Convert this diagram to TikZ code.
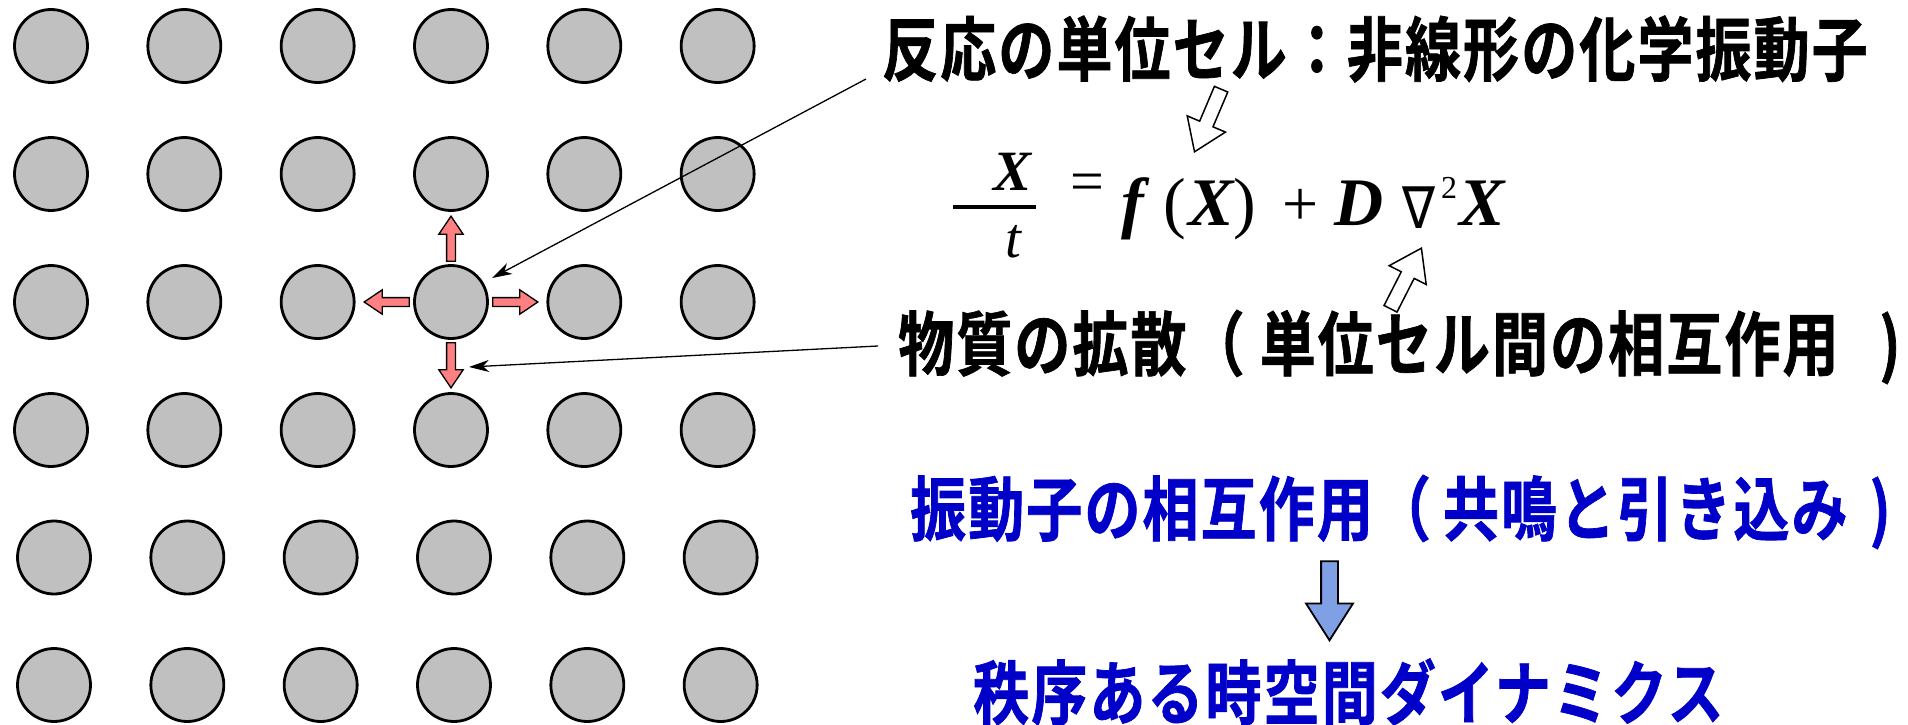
\documentclass[tikz,border=0pt]{standalone}
\usepackage{fontspec}
\setmainfont{Liberation Serif}
\newfontfamily\jp[FakeStretch=0.8,LetterSpace=3,FakeBold=1]{Noto Sans CJK JP Bold}
\newfontfamily\symfont{DejaVu Sans}
\usetikzlibrary{shapes.arrows,arrows.meta}
\definecolor{cellgray}{RGB}{192,192,192}
\definecolor{arrowred}{RGB}{255,128,128}
\definecolor{arrowblue}{RGB}{128,160,230}
\definecolor{jpblue}{RGB}{0,0,200}
\tikzset{
  cell/.style={circle, draw=black, line width=2.8pt, fill=cellgray, minimum size=73pt, inner sep=0pt},
  redarr/.style={single arrow, draw=black, line width=1.3pt, fill=arrowred, anchor=tip,
    inner xsep=0pt, inner ysep=3.75pt, text height=0pt, text depth=0pt, minimum width=0pt,
    single arrow head extend=7.75pt, single arrow tip angle=68, minimum height=45pt},
  bluearr/.style={single arrow, draw=black, line width=1.8pt, fill=arrowblue, anchor=tip,
    inner xsep=0pt, inner ysep=7.5pt, text height=0pt, text depth=0pt, minimum width=0pt,
    single arrow head extend=15pt, single arrow tip angle=65, minimum height=79pt},
  hollowarr/.style={single arrow, draw=black, line width=1.5pt, fill=white, anchor=tip,
    inner xsep=0pt, inner ysep=6.5pt, text height=0pt, text depth=0pt, minimum width=0pt,
    single arrow head extend=13.5pt, single arrow tip angle=69, minimum height=68pt},
  thinarr/.style={line width=1.3pt, -{Stealth[length=20pt,width=12pt,inset=6pt]}},
  jptext/.style={font=\jp\fontsize{70}{74}\selectfont, inner sep=0pt, anchor=west},
  eqbi/.style={font=\fontsize{68}{70}\selectfont\bfseries\itshape, inner sep=0pt, anchor=base west},
  eqrm/.style={font=\fontsize{68}{70}\selectfont, inner sep=0pt, anchor=base west},
}
\begin{document}
\begin{tikzpicture}[x=1pt,y=-1pt]
\useasboundingbox[fill=white] (0,0) rectangle (1908,725);
% grid of cells
\foreach \r/\y/\dx in {1/46/0,2/174/0,3/302/0,4/430/0,5/557.5/3,6/685/3}{
  \foreach \c in {1,...,6}{
    \node[cell] (c\r\c) at ({51+133.33*(\c-1)+\dx},\y) {};
  }
}
% red diffusion arrows
\node[redarr, rotate=90] (ru) at (451,215) {};
\node[redarr, rotate=180] (rl) at (363,302) {};
\node[redarr] (rr) at (539,302) {};
\node[redarr, rotate=-90] (rd) at (451,389) {};
% texts
\node[jptext] (title) at (882,49) {反応の単位セル：非線形の化学振動子};
\node[jptext] (diff) at (898,347) {物質の拡散（\kern15pt 単位セル間の相互作用 \kern26pt)};
\node[jptext, text=jpblue] (inter) at (910,512) {振動子の相互作用（\kern12pt 共鳴と引き込み\kern22pt)};
\node[jptext, text=jpblue] (order) at (973,692) {秩序ある時空間ダイナミクス};
% thin pointer arrows
\coordinate (p1) at (866,79);
\coordinate (q1) at (492,278);
\coordinate (p2) at (878,346);
\coordinate (q2) at (469,367);
\draw[thinarr] (p1) -- (q1);
\draw[thinarr] (p2) -- (q2);
% equation
\node[font=\fontsize{57}{60}\selectfont\bfseries\itshape, inner sep=0pt, anchor=base west] (num) at (993,190) {X};
\node[font=\fontsize{57}{60}\selectfont\itshape, inner sep=0pt, anchor=base west] (den) at (1005,257) {t};
\coordinate (barL) at (953,207);
\coordinate (barR) at (1036,207);
\draw[line width=4pt] (barL) -- (barR);
\node[font=\fontsize{60}{62}\selectfont, inner sep=0pt] (eq) at (1087,188) {=};
\node[eqbi] (ff) at (1121,225) {f};
\node[eqrm] (lp) at (1163,225) {(};
\node[eqbi] (x1) at (1188,225) {X};
\node[eqrm] (rp) at (1233,225) {)};
\node[font=\fontsize{64}{66}\selectfont, inner sep=0pt, anchor=base west] (plus) at (1282,225) {+};
\node[eqbi] (dd) at (1334,225) {D};
\node[font=\symfont\fontsize{58}{60}\selectfont, inner sep=0pt, anchor=base west, xscale=0.85] (nab) at (1402,228) {∇};
\node[font=\fontsize{32}{34}\selectfont, inner sep=0pt, anchor=base west] (sq) at (1441,198) {2};
\node[eqbi] (x2) at (1459,225) {X};
% hollow arrows
\node[hollowarr, rotate=247] (h1) at (1194,153) {};
\node[hollowarr, rotate=63] (h2) at (1422,247) {};
% blue arrow
\node[bluearr, rotate=-90] (ba) at (1329.5,642) {};
\end{tikzpicture}
\end{document}
